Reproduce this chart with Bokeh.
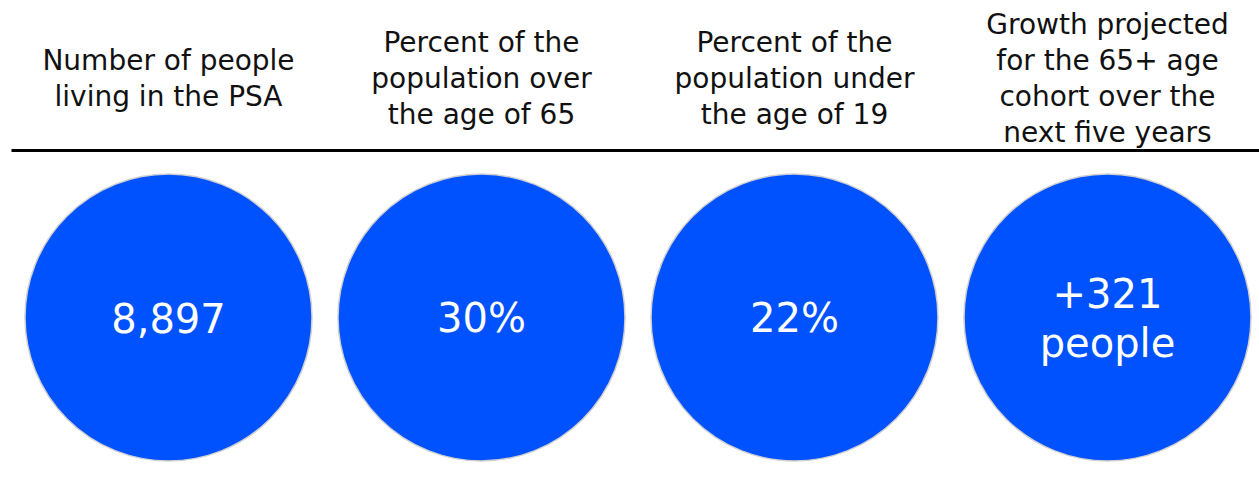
from bokeh.plotting import figure
from bokeh.models import Range1d
from bokeh.core.properties import value
from bokeh.embed import file_html
from bokeh.resources import INLINE

# ---- data ----
headers = [
    ["Number of people", "living in the PSA"],
    ["Percent of the", "population over", "the age of 65"],
    ["Percent of the", "population under", "the age of 19"],
    ["Growth projected", "for the 65+ age", "cohort over the", "next five years"],
]
values = [["8,897"], ["30%"], ["22%"], ["+321", "people"]]

W, H = 1259, 482
FONT = "DejaVu Sans"
BLUE = "#0052ff"

p = figure(width=W, height=H, output_backend="svg", toolbar_location=None,
           x_range=Range1d(0, W), y_range=Range1d(H, 0), min_border=0)
p.axis.visible = False
p.grid.visible = False
p.outline_line_color = None
p.background_fill_color = "white"
p.border_fill_color = "white"

x0, dx = 168, 313
centers = [x0 + i * dx for i in range(len(values))]
cy, r = 317, 143.5

p.circle(x=centers, y=[cy] * len(centers), radius=r, fill_color=BLUE,
         line_color="#d0d0d0", line_width=1.5)

# separator line
p.line(x=[11, W], y=[150, 150], line_color="black", line_width=3)

# headers (vertically centred)
hx, hy, ht = [], [], []
lh = 36
hmid = 77.5
for c, lines in zip(centers, headers):
    n = len(lines)
    for j, t in enumerate(lines):
        hx.append(c)
        hy.append(hmid + (j - (n - 1) / 2) * lh)
        ht.append(t)
p.text(x=hx, y=hy, text=ht, text_font=value(FONT), text_font_size="28px",
       text_align="center", text_baseline="middle", text_color="#111111")

# values
vx, vy, vt = [], [], []
vlh = 50
for c, lines in zip(centers, values):
    n = len(lines)
    for j, t in enumerate(lines):
        vx.append(c)
        vy.append(cy + (j - (n - 1) / 2) * vlh)
        vt.append(t)
p.text(x=vx, y=vy, text=vt, text_font=value(FONT), text_font_size="40px",
       text_align="center", text_baseline="middle", text_color="white")

open("out.html", "w").write(file_html(p, INLINE))
